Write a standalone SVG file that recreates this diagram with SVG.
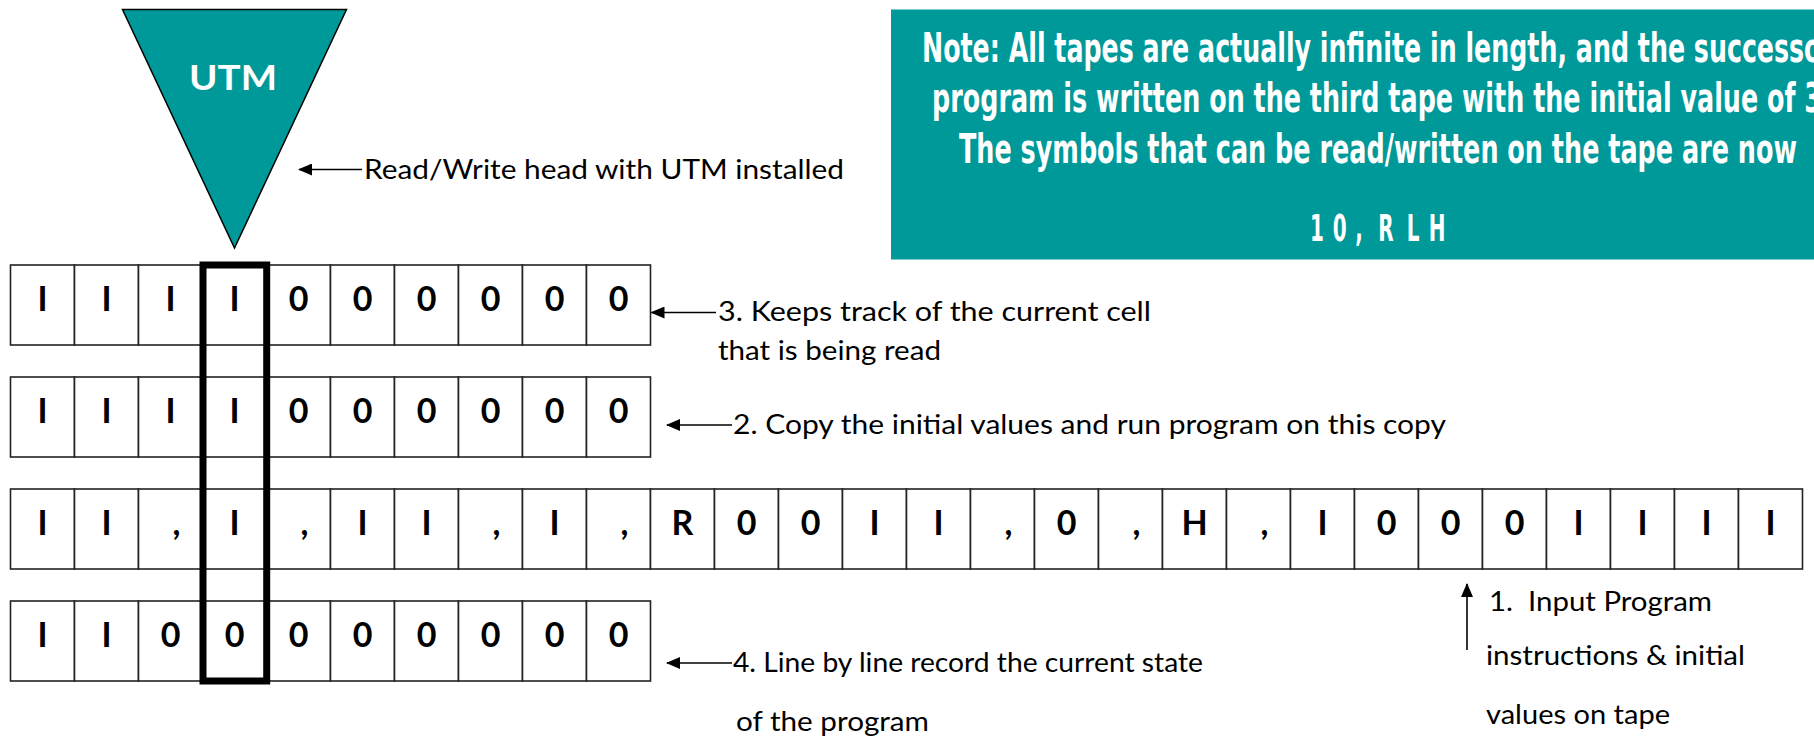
<svg xmlns="http://www.w3.org/2000/svg" width="1814" height="738" viewBox="0 0 1814 738">
<defs>
<marker id="ah" markerUnits="userSpaceOnUse" markerWidth="14" markerHeight="12" refX="13" refY="6" orient="auto">
<path d="M0,0 L14,6 L0,12 z" fill="#000"/>
</marker>
<style>
.cell{fill:#fff;stroke:#222;stroke-width:1.6}
.sym{font-family:Lato,"Open Sans","DejaVu Sans",sans-serif;font-weight:bold;font-size:34px;fill:#000;text-anchor:middle}
.lbl{font-family:Lato,"Gill Sans","Open Sans",sans-serif;font-size:26px;fill:#000}
.note{font-family:"DejaVu Sans Condensed","DejaVu Sans",sans-serif;font-weight:bold;font-size:40px;fill:#fff}
.conn{stroke:#000;stroke-width:1.6;fill:none;marker-end:url(#ah)}
.teal{fill:#009999}
</style>
</defs>
<rect width="1814" height="738" fill="#fff"/>

<g id="note">
<rect class="teal" x="891" y="9.5" width="923" height="250"/>
<g transform="scale(0.64 1)">
<text class="note" x="1440.6" y="62" textLength="1425" lengthAdjust="spacingAndGlyphs">Note: All tapes are actually infinite in length, and the successor</text>
<text class="note" x="1456.3" y="112" textLength="1390.6" lengthAdjust="spacingAndGlyphs">program is written on the third tape with the initial value of 3</text>
<text class="note" x="1498.4" y="163" textLength="1309.4" lengthAdjust="spacingAndGlyphs">The symbols that can be read/written on the tape are now</text>
</g>
<text class="note" transform="scale(0.6 1)" style="font-size:37px;text-anchor:middle" x="2195 2233 2265 2310 2355 2395" y="241">10,RLH</text>
</g>

<g id="utm-head">
<polygon class="teal" points="122.5,9.5 346.5,9.5 234.5,248" stroke="#000" stroke-width="1.5"/>
<text x="233" y="90" textLength="88" lengthAdjust="spacingAndGlyphs" style="font-family:Lato,'Open Sans',sans-serif;font-weight:bold;font-size:35px;fill:#fff;text-anchor:middle">UTM</text>
</g>

<g id="tape1">
<rect class="cell" x="10.5" y="265" width="64" height="80"/><rect class="cell" x="74.5" y="265" width="64" height="80"/><rect class="cell" x="138.5" y="265" width="64" height="80"/><rect class="cell" x="202.5" y="265" width="64" height="80"/><rect class="cell" x="266.5" y="265" width="64" height="80"/><rect class="cell" x="330.5" y="265" width="64" height="80"/><rect class="cell" x="394.5" y="265" width="64" height="80"/><rect class="cell" x="458.5" y="265" width="64" height="80"/><rect class="cell" x="522.5" y="265" width="64" height="80"/><rect class="cell" x="586.5" y="265" width="64" height="80"/>
<text class="sym" x="42.5 106.5 170.5 234.5 298.5 362.5 426.5 490.5 554.5 618.5" y="311">IIII000000</text>
</g>

<g id="tape2">
<rect class="cell" x="10.5" y="377" width="64" height="80"/><rect class="cell" x="74.5" y="377" width="64" height="80"/><rect class="cell" x="138.5" y="377" width="64" height="80"/><rect class="cell" x="202.5" y="377" width="64" height="80"/><rect class="cell" x="266.5" y="377" width="64" height="80"/><rect class="cell" x="330.5" y="377" width="64" height="80"/><rect class="cell" x="394.5" y="377" width="64" height="80"/><rect class="cell" x="458.5" y="377" width="64" height="80"/><rect class="cell" x="522.5" y="377" width="64" height="80"/><rect class="cell" x="586.5" y="377" width="64" height="80"/>
<text class="sym" x="42.5 106.5 170.5 234.5 298.5 362.5 426.5 490.5 554.5 618.5" y="423">IIII000000</text>
</g>

<g id="tape3">
<rect class="cell" x="10.5" y="489" width="64" height="80"/><rect class="cell" x="74.5" y="489" width="64" height="80"/><rect class="cell" x="138.5" y="489" width="64" height="80"/><rect class="cell" x="202.5" y="489" width="64" height="80"/><rect class="cell" x="266.5" y="489" width="64" height="80"/><rect class="cell" x="330.5" y="489" width="64" height="80"/><rect class="cell" x="394.5" y="489" width="64" height="80"/><rect class="cell" x="458.5" y="489" width="64" height="80"/><rect class="cell" x="522.5" y="489" width="64" height="80"/><rect class="cell" x="586.5" y="489" width="64" height="80"/><rect class="cell" x="650.5" y="489" width="64" height="80"/><rect class="cell" x="714.5" y="489" width="64" height="80"/><rect class="cell" x="778.5" y="489" width="64" height="80"/><rect class="cell" x="842.5" y="489" width="64" height="80"/><rect class="cell" x="906.5" y="489" width="64" height="80"/><rect class="cell" x="970.5" y="489" width="64" height="80"/><rect class="cell" x="1034.5" y="489" width="64" height="80"/><rect class="cell" x="1098.5" y="489" width="64" height="80"/><rect class="cell" x="1162.5" y="489" width="64" height="80"/><rect class="cell" x="1226.5" y="489" width="64" height="80"/><rect class="cell" x="1290.5" y="489" width="64" height="80"/><rect class="cell" x="1354.5" y="489" width="64" height="80"/><rect class="cell" x="1418.5" y="489" width="64" height="80"/><rect class="cell" x="1482.5" y="489" width="64" height="80"/><rect class="cell" x="1546.5" y="489" width="64" height="80"/><rect class="cell" x="1610.5" y="489" width="64" height="80"/><rect class="cell" x="1674.5" y="489" width="64" height="80"/><rect class="cell" x="1738.5" y="489" width="64" height="80"/>
<text class="sym" x="42.5 106.5 176.5 234.5 304.5 362.5 426.5 496.5 554.5 624.5 682.5 746.5 810.5 874.5 938.5 1008.5 1066.5 1136.5 1194.5 1264.5 1322.5 1386.5 1450.5 1514.5 1578.5 1642.5 1706.5 1770.5" y="535">II,I,II,I,R00II,0,H,I000IIII</text>
</g>

<g id="tape4">
<rect class="cell" x="10.5" y="601" width="64" height="80"/><rect class="cell" x="74.5" y="601" width="64" height="80"/><rect class="cell" x="138.5" y="601" width="64" height="80"/><rect class="cell" x="202.5" y="601" width="64" height="80"/><rect class="cell" x="266.5" y="601" width="64" height="80"/><rect class="cell" x="330.5" y="601" width="64" height="80"/><rect class="cell" x="394.5" y="601" width="64" height="80"/><rect class="cell" x="458.5" y="601" width="64" height="80"/><rect class="cell" x="522.5" y="601" width="64" height="80"/><rect class="cell" x="586.5" y="601" width="64" height="80"/>
<text class="sym" x="42.5 106.5 170.5 234.5 298.5 362.5 426.5 490.5 554.5 618.5" y="647">II00000000</text>
</g>

<g id="head-column">
<rect x="203" y="265" width="63.7" height="416" fill="none" stroke="#000" stroke-width="7"/>
</g>

<g id="connectors">
<line class="conn" x1="362" y1="169.5" x2="299" y2="169.5"/>
<line class="conn" x1="716" y1="312.5" x2="651.5" y2="312.5"/>
<line class="conn" x1="732" y1="425" x2="667" y2="425"/>
<line class="conn" x1="732" y1="663" x2="667" y2="663"/>
<line class="conn" x1="1467" y1="650" x2="1467" y2="584"/>
</g>

<g id="labels">
<text class="lbl" x="364" y="179" textLength="480" lengthAdjust="spacingAndGlyphs">Read/Write head with UTM installed</text>
<text class="lbl" x="718" y="321" textLength="433" lengthAdjust="spacingAndGlyphs">3. Keeps track of the current cell</text>
<text class="lbl" x="718" y="360" textLength="223" lengthAdjust="spacingAndGlyphs">that is being read</text>
<text class="lbl" x="733" y="434" textLength="713" lengthAdjust="spacingAndGlyphs">2. Copy the initial values and run program on this copy</text>
<text class="lbl" x="733" y="672" textLength="470" lengthAdjust="spacingAndGlyphs">4. Line by line record the current state</text>
<text class="lbl" x="736" y="731" textLength="193" lengthAdjust="spacingAndGlyphs">of the program</text>
<text class="lbl" x="1489" y="611" textLength="223" lengthAdjust="spacingAndGlyphs" xml:space="preserve">1.  Input Program</text>
<text class="lbl" x="1486" y="665" textLength="259" lengthAdjust="spacingAndGlyphs">instructions &amp; initial</text>
<text class="lbl" x="1486" y="724" textLength="184" lengthAdjust="spacingAndGlyphs">values on tape</text>
</g>
</svg>
